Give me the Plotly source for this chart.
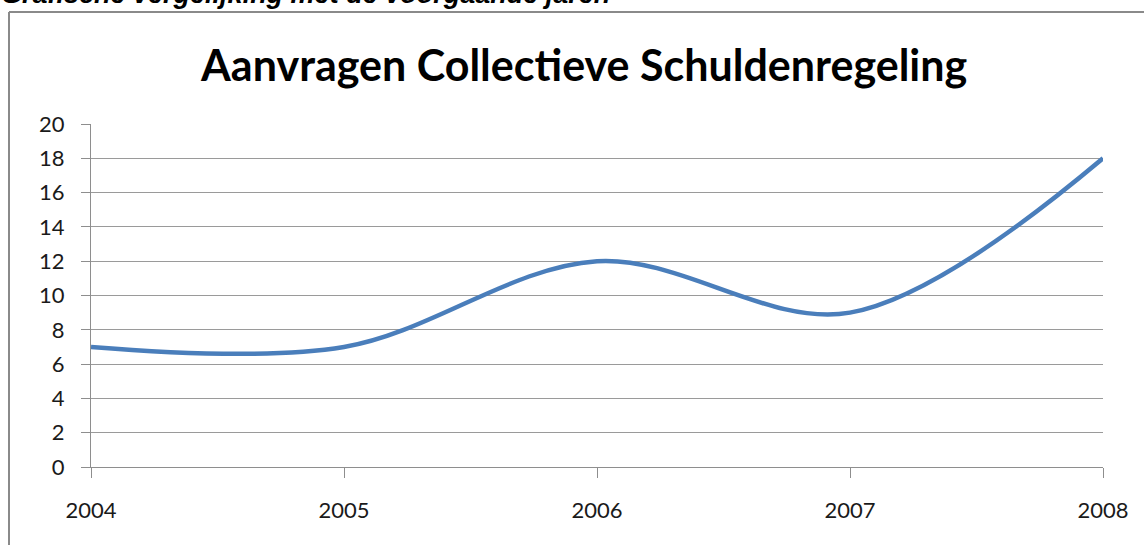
import plotly.graph_objects as go

years = [2004, 2005, 2006, 2007, 2008]
aanvragen = [7, 7, 12, 9, 18]
y_ticks = list(range(0, 21, 2))
chart_title = "Aanvragen Collectieve Schuldenregeling"
page_heading = "Grafische vergelijking met de voorgaande jaren"

W, H = 1144, 545
L, R, T, B = 91, 1103, 124, 467  # plot area in pixels
pw, ph = R - L, B - T

def px(x):
    return (x - L) / pw

def py(y):
    return (B - y) / ph

fig = go.Figure()
fig.add_trace(go.Scatter(
    x=years, y=aanvragen, mode="lines",
    line=dict(color="#4a7ebb", width=4.5, shape="spline", smoothing=1.0),
    hoverinfo="x+y", showlegend=False,
))

fig.update_layout(
    width=W, height=H,
    margin=dict(l=L, r=W - R, t=T, b=H - B, autoexpand=False),
    paper_bgcolor="white", plot_bgcolor="white",
    font=dict(family="Lato, Open Sans, sans-serif", color="#222222"),
    xaxis=dict(
        range=[2004, 2008], tickvals=years, ticktext=[str(y) for y in years],
        showgrid=False, zeroline=False, showline=True, linecolor="#8e8e8e", linewidth=1,
        ticks="outside", ticklen=10, tickcolor="#8e8e8e", tickwidth=1,
        tickfont=dict(size=22, family="Lato, sans-serif", color="#1a1a1a"),
        ticklabelstandoff=14,
    ),
    yaxis=dict(
        range=[0, 20], tickvals=y_ticks,
        showgrid=True, gridcolor="#9a9a9a", gridwidth=1,
        zeroline=False, showline=True, linecolor="#8e8e8e", linewidth=1,
        ticks="outside", ticklen=9, tickcolor="#8e8e8e", tickwidth=1,
        tickfont=dict(size=22, family="Lato, sans-serif", color="#1a1a1a"),
        ticklabelstandoff=12,
    ),
    shapes=[
        dict(type="line", xref="paper", yref="paper",
             x0=px(9), x1=px(9), y0=py(12), y1=py(560),
             line=dict(color="#8a8a8a", width=2)),
        dict(type="line", xref="paper", yref="paper",
             x0=px(9), x1=px(1160), y0=py(12), y1=py(12),
             line=dict(color="#8a8a8a", width=2)),
    ],
    annotations=[
        dict(text=chart_title, xref="paper", yref="paper",
             x=px(583), y=py(64), xanchor="center", yanchor="middle",
             showarrow=False,
             font=dict(size=43, family="Lato, sans-serif", color="#000000", weight="bold")),
        dict(text="<b><i>" + page_heading + "</i></b>", xref="paper", yref="paper",
             x=px(-1), y=py(-6), xanchor="left", yanchor="middle",
             showarrow=False,
             font=dict(size=27, family="Liberation Sans, Arial, sans-serif", color="#000000")),
    ],
)

fig.write_html(
    "out.html",
    config={"displayModeBar": False},
    post_script="document.body.style.margin='0';document.body.style.padding='0';"
                "document.body.style.overflow='hidden';",
)
